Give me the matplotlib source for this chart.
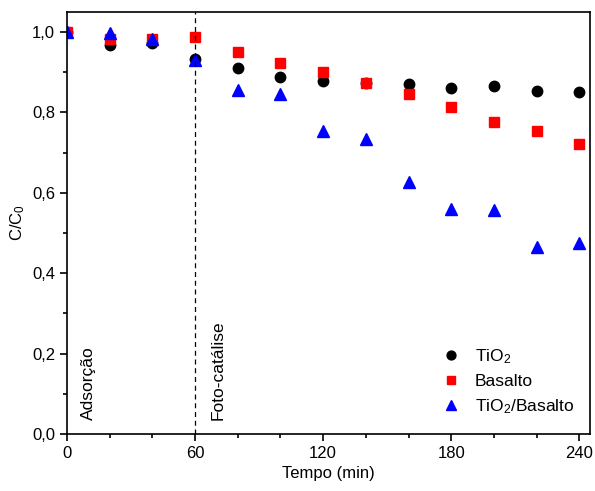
import matplotlib
matplotlib.use("Agg")
import matplotlib.pyplot as plt
from matplotlib.ticker import MultipleLocator, FuncFormatter

plt.rcParams["font.family"] = ["Liberation Sans", "DejaVu Sans"]
plt.rcParams["mathtext.fontset"] = "custom"
plt.rcParams["mathtext.rm"] = "Liberation Sans"
plt.rcParams["mathtext.it"] = "Liberation Sans"
plt.rcParams["mathtext.default"] = "regular"

# tempo (min)
tempo = [0, 20, 40, 60, 80, 100, 120, 140, 160, 180, 200, 220, 240]
# C/C0 for each material
tio2 = [1.0, 0.968, 0.974, 0.933, 0.910, 0.887, 0.878, 0.874, 0.871, 0.861, 0.867, 0.854, 0.850]
basalto = [1.0, 0.984, 0.982, 0.987, 0.951, 0.923, 0.901, 0.874, 0.845, 0.813, 0.777, 0.754, 0.722]
tio2_basalto = [1.0, 0.997, 0.984, 0.930, 0.856, 0.846, 0.754, 0.735, 0.627, 0.559, 0.557, 0.465, 0.474]

fig = plt.figure(figsize=(5.95, 4.91), dpi=100)
ax = fig.add_axes([0.1126, 0.1161, 0.879, 0.8595])

ax.plot(tempo, tio2, "o", color="black", ms=7.5, label="TiO$_2$")
ax.plot(tempo, basalto, "s", color="red", ms=6.5, label="Basalto")
ax.plot(tempo, tio2_basalto, "^", color="blue", ms=8, label="TiO$_2$/Basalto")

ax.axvline(60, color="black", linestyle="--", linewidth=0.9, dashes=(4, 3))
ax.text(10, 0.035, "Adsorção", rotation=90, fontsize=12.5, ha="center", va="bottom")
ax.text(71, 0.035, "Foto-catálise", rotation=90, fontsize=12.5, ha="center", va="bottom")

ax.set_xlim(0, 245)
ax.set_ylim(0, 1.05)
ax.xaxis.set_major_locator(MultipleLocator(60))
ax.xaxis.set_minor_locator(MultipleLocator(20))
ax.yaxis.set_major_locator(MultipleLocator(0.2))
ax.yaxis.set_minor_locator(MultipleLocator(0.1))
ax.yaxis.set_major_formatter(FuncFormatter(lambda v, p: f"{v:.1f}".replace(".", ",")))
ax.tick_params(which="major", direction="out", length=5, width=1.2, labelsize=12)
ax.tick_params(which="minor", direction="out", length=3, width=1.2)
for s in ax.spines.values():
    s.set_linewidth(1.2)

ax.set_xlabel("Tempo (min)", fontsize=12)
ax.set_ylabel("C/C$_0$", fontsize=12)

ax.legend(loc="lower right", bbox_to_anchor=(1.0, 0.005), frameon=False, fontsize=12.5,
          handletextpad=0.9, labelspacing=0.47, handlelength=1.0, markerscale=0.85)

fig.savefig("out.png", dpi=100)
